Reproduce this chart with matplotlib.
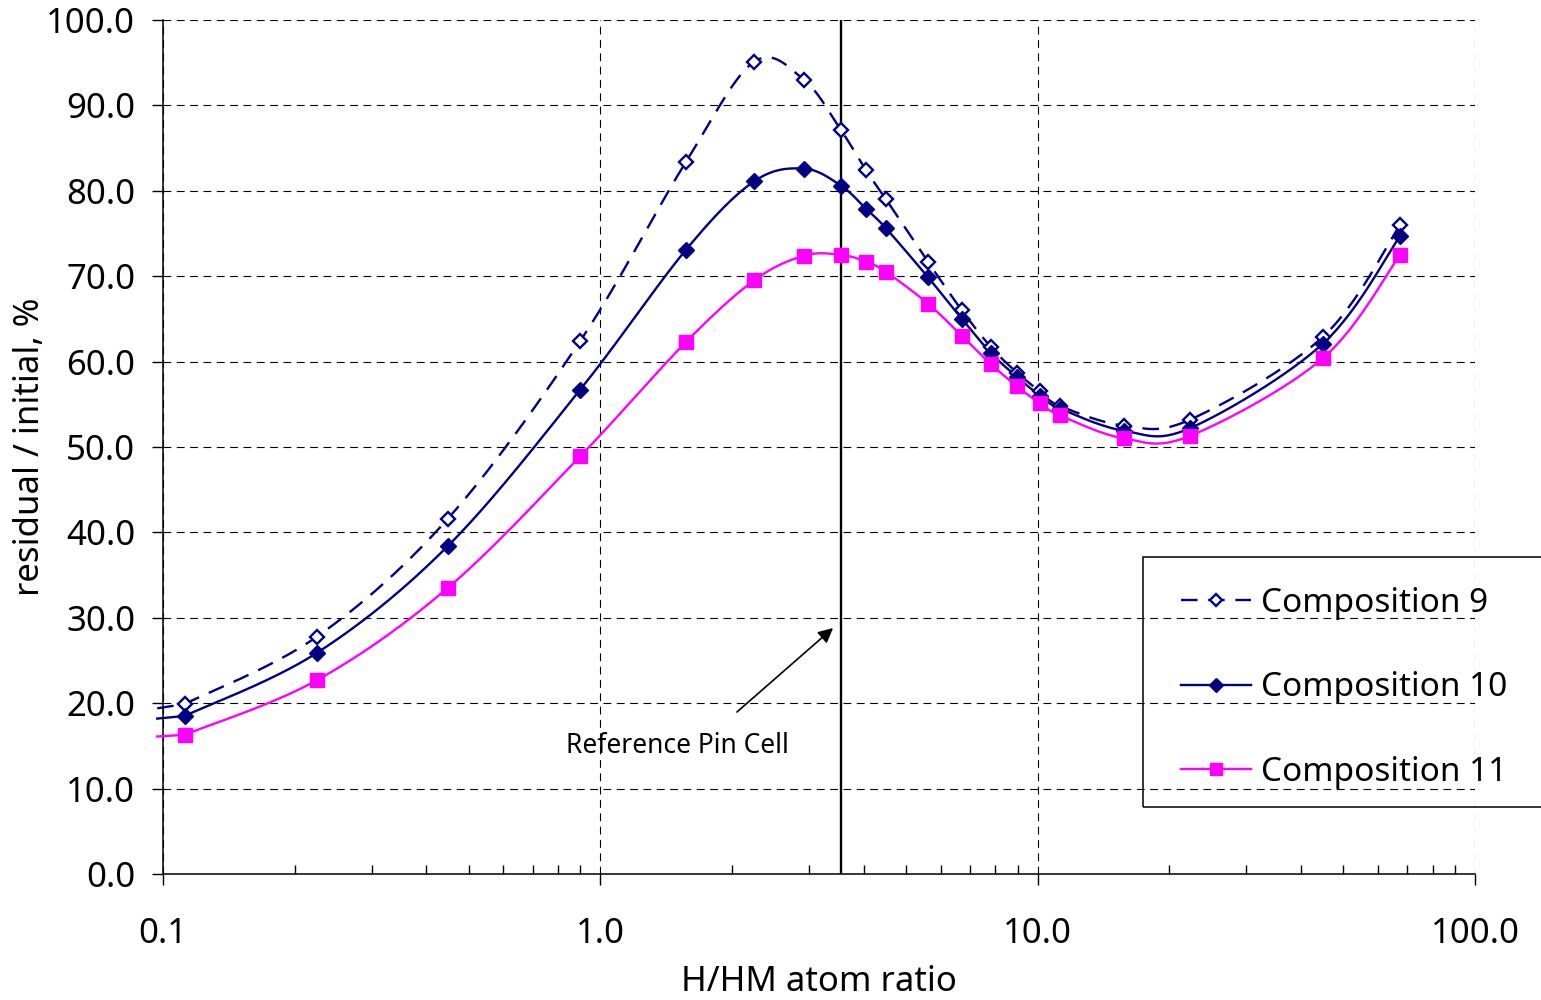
import numpy as np
import matplotlib
matplotlib.use("Agg")
import matplotlib.pyplot as plt
from matplotlib.patches import Rectangle

plt.rcParams['font.family'] = ['Noto Sans', 'DejaVu Sans']

# H/HM atom ratio of each case
ratio = [0.112, 0.225, 0.448, 0.899, 1.57, 2.246, 2.92, 3.55, 4.05, 4.50,
         5.61, 6.71, 7.82, 8.97, 10.13, 11.25, 15.76, 22.3, 44.9, 67.4]
comp9 = [19.9, 27.8, 41.6, 62.4, 83.4, 95.1, 93.0, 87.1, 82.4, 79.0,
         71.7, 66.0, 61.7, 58.7, 56.5, 54.8, 52.5, 53.2, 62.9, 76.0]
comp10 = [18.5, 25.9, 38.4, 56.7, 73.1, 81.1, 82.6, 80.6, 77.9, 75.6,
          69.9, 65.0, 61.0, 58.2, 56.0, 54.5, 51.9, 52.2, 62.1, 74.7]
comp11 = [16.3, 22.7, 33.5, 48.9, 62.3, 69.5, 72.4, 72.5, 71.7, 70.5,
          66.8, 63.0, 59.7, 57.1, 55.1, 53.7, 51.0, 51.3, 60.4, 72.5]

# where the curves run out at the left edge of the plot
edge_ratio = 0.097
edge_vals = {"9": 19.4, "10": 18.2, "11": 16.1}

ref_pin = 3.55

NAVY = "#000080"
MAGENTA = "#FF00FF"


def smooth(xs, ys, n=30):
    # Excel-like smoothed line: Catmull-Rom bezier in display-ish space
    u = np.log10(xs) * 437.3
    v = np.asarray(ys) * 8.54
    P = np.column_stack([u, v])
    out = []
    for i in range(len(P) - 1):
        p0 = P[i - 1] if i > 0 else P[i]
        p1, p2 = P[i], P[i + 1]
        p3 = P[i + 2] if i + 2 < len(P) else P[i + 1]
        c1 = p1 + (p2 - p0) / 6.0
        c2 = p2 - (p3 - p1) / 6.0
        t = np.linspace(0, 1, n)[:, None]
        seg = ((1 - t) ** 3) * p1 + 3 * ((1 - t) ** 2) * t * c1 + 3 * (1 - t) * t ** 2 * c2 + t ** 3 * p2
        out.append(seg if i == 0 else seg[1:])
    out = np.vstack(out)
    return 10 ** (out[:, 0] / 437.3), out[:, 1] / 8.54


fig = plt.figure(figsize=(15.41, 10), dpi=100)
ax = fig.add_axes([163 / 1541, 1 - 874 / 1000, (1475 - 163) / 1541, (874 - 20) / 1000])

series = [
    ("Composition 9", comp9, "9", dict(color=NAVY, ls=(0, (7, 4.5)), lw=1.7),
     dict(marker="D", ms=7, mfc="white", mec=NAVY, mew=1.7)),
    ("Composition 10", comp10, "10", dict(color=NAVY, ls="-", lw=1.7),
     dict(marker="D", ms=8.5, mfc=NAVY, mec=NAVY, mew=1)),
    ("Composition 11", comp11, "11", dict(color=MAGENTA, ls="-", lw=1.7),
     dict(marker="s", ms=10, mfc=MAGENTA, mec=MAGENTA, mew=1)),
]

handles = []
for label, vals, key, lstyle, mstyle in series:
    sx, sy = smooth(ratio, vals)
    sx = np.concatenate([[edge_ratio], sx])
    sy = np.concatenate([[edge_vals[key]], sy])
    ax.plot(sx, sy, clip_on=False, zorder=3, **lstyle)
    ax.plot(ratio, vals, ls="none", zorder=4, clip_on=False, **mstyle)
    leg_m = dict(mstyle)
    leg_m["ms"] = mstyle["ms"] * 0.85
    h, = ax.plot([], [], label=label, **lstyle, **leg_m)
    handles.append(h)

ax.axvline(ref_pin, color="black", lw=1.7, zorder=2)
ax.annotate("", xy=(3.405, 28.8), xytext=(2.053, 18.97),
            arrowprops=dict(arrowstyle="-|>", color="black", lw=1.2, mutation_scale=22,
                            shrinkA=0, shrinkB=0))
ax.text(1.497, 15.0, "Reference Pin Cell", fontsize=19, ha="center", va="center")

ax.set_xscale("log")
ax.set_xlim(0.1, 100)
ax.set_ylim(0, 100)
ax.set_yticks(np.arange(0, 101, 10))
ax.set_yticklabels([f"{v:.1f}" for v in np.arange(0, 101, 10)])
ax.set_xticks([0.1, 1, 10, 100])
ax.set_xticklabels(["0.1", "1.0", "10.0", "100.0"])

ax.grid(True, which="major", color="black", lw=0.8, ls=(0, (7, 5)))
ax.tick_params(axis="y", which="major", direction="out", length=8, width=1, labelsize=25, pad=12)
ax.tick_params(axis="x", which="major", direction="out", length=8, width=1, labelsize=25, pad=23)
ax.tick_params(axis="x", which="minor", direction="in", length=6.5, width=1)
for s in ["top", "right"]:
    ax.spines[s].set_visible(False)
for s in ["left", "bottom"]:
    ax.spines[s].set_linewidth(1.1)

ax.set_xlabel("H/HM atom ratio", fontsize=25)
ax.xaxis.set_label_coords(0.5, (874 - 982) / 854)
ax.xaxis.label.set_verticalalignment("center")
ax.set_ylabel("residual / initial, %", fontsize=25)
ax.yaxis.set_label_coords((30 - 163) / 1312, (874 - 447) / 854)
ax.yaxis.label.set_verticalalignment("center")

leg = fig.legend(handles=handles, loc="upper left", frameon=False,
                 bbox_to_anchor=(1164 / 1541, 1 - 570 / 1000), bbox_transform=fig.transFigure,
                 fontsize=24, handlelength=2.1, handletextpad=0.3, labelspacing=1.55, borderpad=0)
fig.patches.append(Rectangle((1143 / 1541, 1 - 807 / 1000), (1600 - 1143) / 1541, 250 / 1000,
                             transform=fig.transFigure, fill=False, edgecolor="black", lw=1.1))

fig.savefig("out.png", dpi=100)
